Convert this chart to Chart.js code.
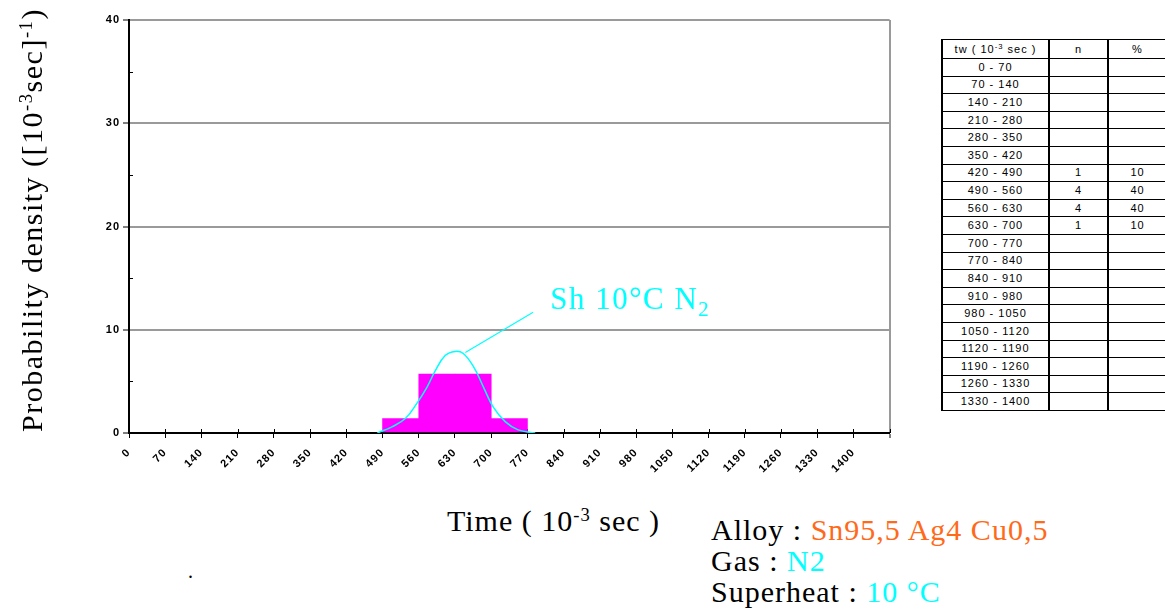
<!DOCTYPE html>
<html>
<head>
<meta charset="utf-8">
<script src="https://cdn.jsdelivr.net/npm/chart.js@4.4.0/dist/chart.umd.min.js"></script>
<style>
  html, body { margin: 0; padding: 0; background: #fff; }
  body { width: 1165px; height: 614px; position: relative; overflow: hidden;
         font-family: "Liberation Serif", "Times New Roman", serif; color: #000; }
  #wrap { position: absolute; left: 0; top: 0; width: 907px; height: 480px; }
  sup { font-size: 0.62em; line-height: 0; vertical-align: 0.55em; }
  #ytitle { position: absolute; left: -208px; top: 205px; width: 480px; height: 30px;
            line-height: 30px; font-size: 30px; text-align: center; white-space: nowrap;
            letter-spacing: 1.5px; transform: rotate(-90deg); }
  #xtitle { position: absolute; left: 447px; top: 506px; font-size: 30px; line-height: 30px;
            letter-spacing: 1px; white-space: nowrap; }
  #info { position: absolute; left: 711px; top: 514px; font-size: 30px; line-height: 31px;
          letter-spacing: 1px; white-space: nowrap; }
  .orange { color: #ff6a1a; }
  .cyan { color: #00ffff; }
  #dot { position: absolute; left: 188px; top: 560px; font-size: 20px; }
  #tbl { position: absolute; left: 941px; top: 39px; width: 225px; border-collapse: collapse;
         font-family: "Liberation Sans", Arial, sans-serif; font-size: 11px; letter-spacing: 1px;
         table-layout: fixed; }
  #tbl td { border-top: 1px solid #000; border-bottom: 1px solid #000;
            border-left: 2px solid #000; border-right: 2px solid #000;
            padding: 0; text-align: center; height: 16.6px; line-height: 11px; white-space: nowrap; }
  #tbl tr.head td { height: 18px; }
  #tbl sup { font-size: 0.7em; vertical-align: 0.5em; }
</style>
</head>
<body>
<div id="wrap"><canvas id="chart"></canvas></div>
<div id="ytitle">Probability density ([10<sup>-3</sup>sec]<sup>-1</sup>)</div>
<div id="xtitle">Time ( 10<sup>-3</sup> sec )</div>
<div id="info">Alloy : <span class="orange">Sn95,5 Ag4 Cu0,5</span><br>Gas : <span class="cyan">N2</span><br>Superheat : <span class="cyan">10 °C</span></div>
<div id="dot">.</div>
<table id="tbl"></table>
<script>
// histogram bins (10^-3 sec), one label per tick
const tickLabels = ["0", "70", "140", "210", "280", "350", "420", "490", "560", "630", "700",
  "770", "840", "910", "980", "1050", "1120", "1190", "1260", "1330", "1400"];
const binStarts = [0, 70, 140, 210, 280, 350, 420, 490, 560, 630, 700,
  770, 840, 910, 980, 1050, 1120, 1190, 1260, 1330, 1400];
// probability density of each bar, as drawn
const barDensity = [0, 0, 0, 0, 0, 0, 0, 1.4, 5.7, 5.7, 1.4,
  0, 0, 0, 0, 0, 0, 0, 0, 0, 0];

// fitted curve
const curveTime = [480, 508, 534, 556, 576, 592, 611, 630, 646, 666, 685, 704, 727, 752, 785];
const curveDensity = [0, 0.6, 1.4, 2.85, 4.45, 6.05, 7.5, 7.9, 7.7, 6.4, 4.45, 2.5, 1.1, 0.3, 0];

// side table
const tableRanges = ["0 - 70", "70 - 140", "140 - 210", "210 - 280", "280 - 350", "350 - 420",
  "420 - 490", "490 - 560", "560 - 630", "630 - 700", "700 - 770", "770 - 840", "840 - 910",
  "910 - 980", "980 - 1050", "1050 - 1120", "1120 - 1190", "1190 - 1260", "1260 - 1330", "1330 - 1400"];
const tableCounts = ["", "", "", "", "", "", "1", "4", "4", "1", "", "", "", "", "", "", "", "", "", ""];
const tablePercents = ["", "", "", "", "", "", "10", "40", "40", "10", "", "", "", "", "", "", "", "", "", ""];

const X_MAX = 1470;
const BIN = 70;
const MINOR_Y = [5, 15, 25, 35];
const LEADER = { from: { x: 650, y: 7.8 }, to: { x: 781, y: 11.7 } };

function buildTable() {
  const tbl = document.getElementById("tbl");
  let html = '<colgroup><col style="width:107px"><col style="width:59px"><col style="width:59px"></colgroup>';
  html += '<tr class="head"><td>tw ( 10<sup>-3</sup> sec )</td><td>n</td><td>%</td></tr>';
  tableRanges.forEach((r, i) => {
    html += `<tr><td>${r}</td><td>${tableCounts[i]}</td><td>${tablePercents[i]}</td></tr>`;
  });
  tbl.innerHTML = html;
}
buildTable();

const extras = {
  id: "extras",
  beforeDraw(chart) {
    // the original tick font is a wide bitmap face
    chart.ctx.letterSpacing = "1px";
  },
  beforeDatasetsDraw(chart) {
    const { ctx, scales: { x, y } } = chart;
    ctx.save();
    ctx.strokeStyle = "#000";
    ctx.lineWidth = 1;
    x.ticks.forEach((t) => {
      const px = Math.round(x.getPixelForValue(t.value)) + 0.5;
      ctx.beginPath();
      ctx.moveTo(px, y.bottom - 4);
      ctx.lineTo(px, y.bottom);
      ctx.stroke();
    });
    MINOR_Y.forEach((v) => {
      const py = Math.round(y.getPixelForValue(v)) + 0.5;
      ctx.beginPath();
      ctx.moveTo(x.left, py);
      ctx.lineTo(x.left + 4, py);
      ctx.stroke();
    });
    ctx.restore();
  },
  afterDatasetsDraw(chart) {
    const { ctx, scales: { x, y } } = chart;
    const x0 = x.getPixelForValue(LEADER.from.x), y0 = y.getPixelForValue(LEADER.from.y);
    const x1 = x.getPixelForValue(LEADER.to.x), y1 = y.getPixelForValue(LEADER.to.y);
    ctx.save();
    ctx.strokeStyle = "#00ffff";
    ctx.lineWidth = 1.2;
    ctx.beginPath();
    ctx.moveTo(x0, y0);
    ctx.lineTo(x1, y1);
    ctx.stroke();
    ctx.fillStyle = "#00ffff";
    ctx.textBaseline = "alphabetic";
    ctx.font = '31px "Liberation Serif", "Times New Roman", serif';
    ctx.letterSpacing = "1.5px";
    const label = "Sh 10°C N";
    const tx = x1 + 17, ty = y1 - 3;
    ctx.fillText(label, tx, ty);
    const w = ctx.measureText(label).width;
    ctx.font = '21px "Liberation Serif", "Times New Roman", serif';
    ctx.fillText("2", tx + w, ty + 7);
    ctx.restore();
  },
};

new Chart(document.getElementById("chart"), {
  type: "bar",
  data: {
    datasets: [
      {
        type: "line",
        data: curveTime.map((t, i) => ({ x: t, y: curveDensity[i] })),
        borderColor: "#00ffff",
        borderWidth: 1.5,
        pointRadius: 0,
        tension: 0.4,
        fill: false,
        order: 0,
      },
      {
        type: "bar",
        data: binStarts.map((s, i) => ({ x: s + BIN / 2, y: barDensity[i] })),
        backgroundColor: (c) => (c.raw && c.raw.y > 0 ? "#ff00ff" : "rgba(0,0,0,0)"),
        borderWidth: 0,
        barPercentage: 1,
        categoryPercentage: 1,
        order: 1,
      },
    ],
  },
  options: {
    responsive: true,
    maintainAspectRatio: false,
    animation: false,
    layout: { padding: { top: 20, right: 10, left: 0, bottom: 0 } },
    plugins: { legend: { display: false }, tooltip: { enabled: false } },
    scales: {
      x: {
        type: "linear",
        min: 0,
        max: X_MAX,
        offset: false,
        afterFit: (scale) => { scale.height = 47; },
        grid: {
          offset: false,
          color: (c) => (c.tick && c.tick.value === X_MAX ? "#9a9a9a" : "rgba(0,0,0,0)"),
          lineWidth: (c) => (c.tick && c.tick.value === X_MAX ? 2 : 1),
          tickColor: "#000",
          tickLength: 5,
          tickWidth: 1,
        },
        border: { color: "#000", width: 2 },
        ticks: {
          stepSize: BIN,
          autoSkip: false,
          minRotation: 45,
          maxRotation: 45,
          padding: 8,
          color: "#000",
          font: { family: '"Liberation Sans", Arial, sans-serif', size: 11, weight: "bold" },
          callback: (v, i) => (tickLabels[i] !== undefined ? tickLabels[i] : ""),
        },
      },
      y: {
        min: 0,
        max: 40,
        afterFit: (scale) => { scale.width = 129; },
        grid: {
          color: (c) => (c.tick && c.tick.value === 0 ? "#000" : "#9a9a9a"),
          lineWidth: 2,
          tickColor: "#000",
          tickLength: 6,
          tickWidth: 1,
        },
        border: { color: "#000", width: 2 },
        ticks: {
          stepSize: 10,
          color: "#000",
          padding: 3,
          font: { family: '"Liberation Sans", Arial, sans-serif', size: 11, weight: "bold" },
        },
      },
    },
  },
  plugins: [extras],
});
</script>
</body>
</html>
